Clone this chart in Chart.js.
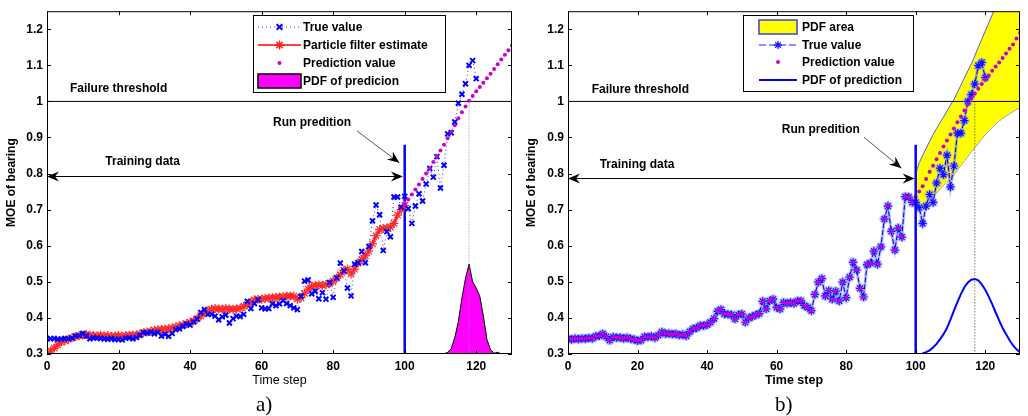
<!DOCTYPE html>
<html>
<head>
<meta charset="utf-8">
<script src="https://cdn.jsdelivr.net/npm/chart.js@4.4.1/dist/chart.umd.min.js"></script>
<style>
  body { margin: 0; background: #fff; }
  #wrap { position: relative; width: 1028px; height: 416px; overflow: hidden; }
  canvas { position: absolute; top: 0; }
  .cap { position: absolute; top: 392px; line-height: 24px; font: 21px "Liberation Serif", "Times New Roman", serif; }
</style>
</head>
<body>
<div id="wrap">
  <canvas id="chartA" width="518" height="416" style="left:0"></canvas>
  <canvas id="chartB" width="508" height="416" style="left:520px"></canvas>
  <div class="cap" style="left:256px">a)</div>
  <div class="cap" style="left:775px">b)</div>
</div>
<script>
const xTicks = [0, 20, 40, 60, 80, 100, 120];
const yTicks = [0.3, 0.4, 0.5, 0.6, 0.7, 0.8, 0.9, 1.0, 1.1, 1.2];
const threshold = 1.0;
const runStep = 100;

// panel a) -- true value, steps 0..120
const trueA = [
  0.343, 0.342, 0.343, 0.341, 0.342, 0.343, 0.342, 0.344, 0.350, 0.351,
  0.357, 0.350, 0.342, 0.345, 0.344, 0.343, 0.342, 0.341, 0.343, 0.340,
  0.341, 0.339, 0.344, 0.345, 0.342, 0.346, 0.352, 0.360, 0.358, 0.361,
  0.356, 0.360, 0.350, 0.355, 0.349, 0.357, 0.368, 0.370, 0.377, 0.383,
  0.380, 0.389, 0.397, 0.415, 0.423, 0.410, 0.410, 0.405, 0.395, 0.403,
  0.408, 0.386, 0.398, 0.405, 0.404, 0.410, 0.446, 0.426, 0.440, 0.450,
  0.428, 0.425, 0.426, 0.439, 0.434, 0.439, 0.448, 0.440, 0.434, 0.428,
  0.423, 0.460, 0.502, 0.505, 0.467, 0.474, 0.453, 0.470, 0.452, 0.498,
  0.457, 0.511, 0.552, 0.530, 0.483, 0.461, 0.549, 0.553, 0.584, 0.553,
  0.598, 0.669, 0.713, 0.686, 0.587, 0.639, 0.625, 0.735, 0.735, 0.707,
  0.737, 0.703, 0.662, 0.710, 0.744, 0.724, 0.771, 0.814, 0.790, 0.847,
  0.760, 0.823, 0.910, 0.913, 0.943, 0.995, 1.020, 1.049, 1.100, 1.113,
  1.063
];
// particle filter estimate, steps 0..100
const pfA = [
  0.300, 0.308, 0.316, 0.325, 0.333, 0.337, 0.341, 0.345, 0.348, 0.351,
  0.352, 0.354, 0.352, 0.351, 0.350, 0.352, 0.350, 0.351, 0.349, 0.350,
  0.351, 0.349, 0.351, 0.352, 0.352, 0.353, 0.356, 0.359, 0.361, 0.363,
  0.366, 0.367, 0.368, 0.369, 0.370, 0.372, 0.375, 0.378, 0.381, 0.384,
  0.388, 0.392, 0.398, 0.406, 0.414, 0.420, 0.424, 0.426, 0.425, 0.424,
  0.426, 0.425, 0.424, 0.425, 0.427, 0.432, 0.437, 0.444, 0.450, 0.452,
  0.452, 0.454, 0.455, 0.456, 0.457, 0.458, 0.459, 0.460, 0.461, 0.460,
  0.452, 0.456, 0.468, 0.480, 0.488, 0.490, 0.491, 0.490, 0.492, 0.495,
  0.502, 0.510, 0.520, 0.532, 0.535, 0.522, 0.535, 0.552, 0.562, 0.572,
  0.585, 0.605, 0.628, 0.645, 0.648, 0.649, 0.652, 0.662, 0.685, 0.700,
  0.712
];
// prediction, steps 100..130
const predA = [
  0.715, 0.728, 0.742, 0.756, 0.770, 0.785, 0.800, 0.815, 0.832, 0.848,
  0.864, 0.880, 0.898, 0.916, 0.934, 0.953, 0.970, 0.986, 1.002, 1.015,
  1.028, 1.040, 1.052, 1.064, 1.077, 1.090, 1.103, 1.116, 1.129, 1.142,
  1.155
];
// PDF of predicion, steps 110..127
const pdfA = [
  0.300, 0.301, 0.304, 0.315, 0.345, 0.390, 0.455, 0.510, 0.549, 0.500,
  0.483, 0.460, 0.405, 0.340, 0.312, 0.302, 0.305, 0.300
];
const eolA = 118;

// panel b) -- true value, steps 0..120
const trueB = [
  0.342, 0.340, 0.343, 0.341, 0.343, 0.342, 0.344, 0.343, 0.349, 0.350,
  0.356, 0.348, 0.338, 0.347, 0.345, 0.346, 0.343, 0.345, 0.342, 0.340,
  0.337, 0.338, 0.348, 0.347, 0.349, 0.345, 0.352, 0.361, 0.356, 0.357,
  0.355, 0.356, 0.352, 0.354, 0.350, 0.362, 0.370, 0.372, 0.379, 0.378,
  0.381, 0.388, 0.398, 0.418, 0.423, 0.411, 0.410, 0.409, 0.397, 0.409,
  0.411, 0.388, 0.400, 0.404, 0.408, 0.412, 0.446, 0.425, 0.447, 0.452,
  0.429, 0.425, 0.443, 0.440, 0.443, 0.440, 0.447, 0.447, 0.434, 0.429,
  0.420, 0.465, 0.499, 0.509, 0.461, 0.476, 0.452, 0.474, 0.447, 0.499,
  0.456, 0.513, 0.554, 0.533, 0.482, 0.458, 0.547, 0.552, 0.585, 0.549,
  0.597, 0.674, 0.710, 0.640, 0.588, 0.649, 0.624, 0.736, 0.735, 0.720,
  0.720, 0.706, 0.662, 0.710, 0.742, 0.720, 0.774, 0.815, 0.797, 0.851,
  0.763, 0.821, 0.912, 0.912, 0.947, 1.000, 1.019, 1.048, 1.099, 1.108,
  1.066
];
// prediction, steps 100..130
const predB = [
  0.735, 0.750, 0.765, 0.785, 0.805, 0.822, 0.840, 0.857, 0.875, 0.892,
  0.908, 0.925, 0.942, 0.958, 0.975, 0.992, 1.008, 1.022, 1.035, 1.048,
  1.060, 1.072, 1.085, 1.097, 1.108, 1.120, 1.133, 1.146, 1.158, 1.174,
  1.190
];
// PDF area bounds, steps 100..130
const bandUpB = [
  0.800, 0.830, 0.850, 0.870, 0.889, 0.908, 0.925, 0.941, 0.957, 0.973,
  0.990, 1.005, 1.025, 1.045, 1.065, 1.085, 1.104, 1.126, 1.150, 1.172,
  1.195, 1.217, 1.240, 1.262, 1.285, 1.307, 1.330, 1.352, 1.375, 1.397,
  1.420
];
const bandLowB = [
  0.700, 0.700, 0.706, 0.716, 0.726, 0.736, 0.746, 0.757, 0.768, 0.778,
  0.787, 0.797, 0.810, 0.822, 0.835, 0.848, 0.860, 0.872, 0.884, 0.897,
  0.908, 0.918, 0.928, 0.938, 0.946, 0.953, 0.960, 0.966, 0.972, 0.978,
  0.983
];
// PDF of prediction, steps 102..130
const pdfB = [
  0.302, 0.305, 0.310, 0.318, 0.328, 0.341, 0.355, 0.372, 0.395, 0.420,
  0.444, 0.466, 0.485, 0.498, 0.506, 0.508, 0.504, 0.493, 0.478, 0.459,
  0.438, 0.415, 0.393, 0.372, 0.355, 0.338, 0.324, 0.313, 0.305
];
const eolB = 117;

const FONT = '"Liberation Sans", Arial, sans-serif';
const pts = (arr, x0) => arr.map((v, i) => ({ x: x0 + i, y: v }));

function marker(ctx, style, x, y, r, color, lw) {
  ctx.save();
  ctx.strokeStyle = color; ctx.fillStyle = color; ctx.lineWidth = lw;
  ctx.beginPath();
  if (style === 'dot') {
    ctx.arc(x, y, r, 0, Math.PI * 2); ctx.fill();
  } else {
    const d = r * 0.707;
    ctx.moveTo(x - d, y - d); ctx.lineTo(x + d, y + d);
    ctx.moveTo(x - d, y + d); ctx.lineTo(x + d, y - d);
    if (style === 'star') {
      ctx.moveTo(x - r, y); ctx.lineTo(x + r, y);
      ctx.moveTo(x, y - r); ctx.lineTo(x, y + r);
    }
    ctx.stroke();
  }
  ctx.restore();
}

function arrowHead(ctx, fx, fy, tx, ty) {
  const a = Math.atan2(ty - fy, tx - fx);
  ctx.save();
  ctx.translate(tx, ty); ctx.rotate(a);
  ctx.beginPath();
  ctx.moveTo(0, 0); ctx.lineTo(-12, -5); ctx.lineTo(-8, 0); ctx.lineTo(-12, 5);
  ctx.closePath();
  ctx.fillStyle = '#000'; ctx.fill();
  ctx.restore();
}

// box, inward ticks, labels, arrows, legend
const decor = {
  id: 'decor',
  afterDatasetsDraw(chart, args, o) {
    const { ctx, chartArea: a, scales: { x, y } } = chart;
    ctx.save();
    ctx.strokeStyle = '#000'; ctx.lineWidth = 1;
    ctx.strokeRect(a.left + 0.5, a.top + 0.5, a.right - a.left - 1, a.bottom - a.top - 1);
    ctx.beginPath();
    xTicks.forEach(v => {
      const px = Math.round(x.getPixelForValue(v)) + 0.5;
      ctx.moveTo(px, a.bottom); ctx.lineTo(px, a.bottom - 4);
      ctx.moveTo(px, a.top); ctx.lineTo(px, a.top + 4);
    });
    yTicks.forEach(v => {
      const py = Math.round(y.getPixelForValue(v)) + 0.5;
      ctx.moveTo(a.left, py); ctx.lineTo(a.left + 4, py);
      ctx.moveTo(a.right, py); ctx.lineTo(a.right - 4, py);
    });
    ctx.stroke();

    ctx.fillStyle = '#000';
    ctx.font = 'bold 12px ' + FONT;
    ctx.textBaseline = 'middle';
    o.texts.forEach(t => ctx.fillText(t.text, x.getPixelForValue(t.x), y.getPixelForValue(t.y)));

    // training data double arrow
    const tr = o.training;
    const ty = Math.round(y.getPixelForValue(tr.y)) + 0.5;
    const x1 = x.getPixelForValue(tr.from), x2 = x.getPixelForValue(tr.to);
    ctx.beginPath(); ctx.moveTo(x1 + 4, ty); ctx.lineTo(x2 - 4, ty); ctx.stroke();
    arrowHead(ctx, x2, ty, x1, ty);
    arrowHead(ctx, x1, ty, x2, ty);

    // run prediction arrow
    const r = o.run;
    const rx1 = x.getPixelForValue(r.from[0]), ry1 = y.getPixelForValue(r.from[1]);
    const rx2 = x.getPixelForValue(r.to[0]), ry2 = y.getPixelForValue(r.to[1]);
    ctx.strokeStyle = '#555';
    ctx.beginPath(); ctx.moveTo(rx1, ry1); ctx.lineTo(rx2, ry2); ctx.stroke();
    arrowHead(ctx, rx1, ry1, rx2, ry2);

    // axis titles
    ctx.fillStyle = '#000';
    ctx.textAlign = 'center';
    ctx.font = 'bold 12px ' + FONT;
    ctx.save();
    ctx.translate(12, (a.top + a.bottom) / 2); ctx.rotate(-Math.PI / 2);
    ctx.fillText('MOE of bearing', 0, 0);
    ctx.restore();
    ctx.font = (o.xTitleBold ? 'bold ' : '') + '12.5px ' + FONT;
    ctx.fillText('Time step', (a.left + a.right) / 2, 381);

    // legend
    const L = o.legend;
    ctx.textAlign = 'left';
    ctx.fillStyle = '#fff';
    ctx.fillRect(L.x, L.y, L.w, L.h);
    ctx.strokeStyle = '#000';
    ctx.strokeRect(L.x + 0.5, L.y + 0.5, L.w, L.h);
    L.items.forEach((it, i) => {
      const cy = L.rows[i], s0 = L.x + L.s0, s1 = L.x + L.s1, cx = (s0 + s1) / 2;
      if (it.rect) {
        ctx.fillStyle = it.rect; ctx.fillRect(s0, cy - 7, s1 - s0, 14);
        ctx.strokeStyle = it.edge; ctx.lineWidth = 1.5;
        ctx.strokeRect(s0, cy - 7, s1 - s0, 14);
      }
      if (it.line) {
        ctx.strokeStyle = it.line; ctx.lineWidth = it.lw || 1.5;
        ctx.setLineDash(it.dash || []);
        ctx.beginPath(); ctx.moveTo(s0, cy); ctx.lineTo(s1, cy); ctx.stroke();
        ctx.setLineDash([]);
      }
      if (it.marker) marker(ctx, it.marker, cx, cy, it.r, it.color, it.mlw);
      ctx.fillStyle = '#000';
      ctx.font = 'bold 12px ' + FONT;
      ctx.fillText(it.text, L.x + L.t, cy + 1);
    });
    ctx.restore();
  }
};

function scales(yWidth) {
  const font = { family: FONT, size: 12, weight: 'bold' };
  return {
    x: {
      type: 'linear', min: 0, max: 130,
      grid: { display: false, drawTicks: false }, border: { display: false },
      ticks: { padding: 5, font, color: '#000', maxRotation: 0 },
      afterBuildTicks: s => { s.ticks = xTicks.map(v => ({ value: v })); },
      afterFit: s => { s.height = 62; }
    },
    y: {
      min: 0.3, max: 1.25,
      grid: { display: false, drawTicks: false }, border: { display: false },
      ticks: { padding: 4, font, color: '#000', callback: v => String(Number(v.toFixed(1))) },
      afterBuildTicks: s => { s.ticks = yTicks.map(v => ({ value: v })); },
      afterFit: s => { s.width = yWidth; }
    }
  };
}

new Chart(document.getElementById('chartA'), {
  type: 'line',
  data: {
    datasets: [
      { data: pts(predA, runStep), showLine: false, pointStyle: 'circle', pointRadius: 2,
        pointBackgroundColor: '#cc00cc', pointBorderWidth: 0 },
      { data: pts(trueA, 0), borderColor: '#3333ff', borderWidth: 1, borderDash: [1, 3],
        pointStyle: 'crossRot', pointRadius: 3.5, pointBorderColor: '#0000ff', pointBorderWidth: 2 },
      { data: pts(pfA, 0), borderColor: '#ff0000', borderWidth: 1.5,
        pointStyle: 'star', pointRadius: 4.5, pointBorderColor: '#ff2a2a', pointBorderWidth: 1.3 },
      { data: pts(pfA, 0), borderColor: 'rgba(255,120,120,0.5)', borderWidth: 3, pointRadius: 0 },
      { data: [{ x: runStep, y: 0.3 }, { x: runStep, y: 0.88 }], borderColor: '#0000ff', borderWidth: 2.5, pointRadius: 0 },
      { data: [{ x: 0, y: threshold }, { x: 130, y: threshold }], borderColor: '#000', borderWidth: 1, pointRadius: 0 },
      { data: [{ x: eolA, y: threshold }, { x: eolA, y: 0.3 }], borderColor: '#888', borderWidth: 1, borderDash: [1, 2], pointRadius: 0 },
      { data: pts(pdfA, 110), fill: 'start', backgroundColor: '#ff00ff', borderColor: '#000', borderWidth: 1, pointRadius: 0 }
    ]
  },
  options: {
    responsive: false, animation: false, events: [],
    layout: { padding: { left: 0, top: 7, right: 6, bottom: 0 } },
    scales: scales(47),
    plugins: {
      legend: { display: false }, tooltip: { enabled: false },
      decor: {
        texts: [
          { text: 'Failure threshold', x: 6.4, y: 1.035 },
          { text: 'Training data', x: 16.3, y: 0.833 },
          { text: 'Run predition', x: 63.2, y: 0.94 }
        ],
        training: { y: 0.792, from: 0, to: 99.5 },
        run: { from: [86.7, 0.918], to: [98.5, 0.83] },
        xTitleBold: false,
        legend: {
          x: 253, y: 15, w: 192, h: 77, rows: [27, 45, 63, 81], s0: 5, s1: 48, t: 50,
          items: [
            { text: 'True value', line: '#3333ff', lw: 1, dash: [1, 3], marker: 'x', r: 4, color: '#0000ff', mlw: 2 },
            { text: 'Particle filter estimate', line: '#ff0000', marker: 'star', r: 4.5, color: '#ff2020', mlw: 1.5 },
            { text: 'Prediction value', marker: 'dot', r: 2, color: '#cc00cc' },
            { text: 'PDF of predicion', rect: '#ff00ff', edge: '#000' }
          ]
        }
      }
    }
  },
  plugins: [decor]
});

new Chart(document.getElementById('chartB'), {
  type: 'line',
  data: {
    datasets: [
      { data: [{ x: runStep, y: 0.3 }, { x: runStep, y: 0.88 }], borderColor: '#0000ff', borderWidth: 2.5, pointRadius: 0 },
      { data: pts(trueB.slice(0, runStep), 0).concat(pts(predB, runStep)), showLine: false,
        pointStyle: 'circle', pointRadius: 2, pointBackgroundColor: '#cc00cc', pointBorderWidth: 0 },
      { data: pts(trueB, 0), borderColor: '#0000dd', borderWidth: 1, borderDash: [5, 2],
        pointStyle: 'star', pointRadius: 4, pointBorderColor: '#1010ff', pointBorderWidth: 1.2 },
      { data: pts(trueB, 0), borderColor: 'rgba(120,120,255,0.55)', borderWidth: 3,
        pointStyle: 'star', pointRadius: 5, pointBorderColor: 'rgba(150,150,255,0.6)', pointBorderWidth: 3 },
      { data: [{ x: 0, y: threshold }, { x: 130, y: threshold }], borderColor: '#000', borderWidth: 1, pointRadius: 0 },
      { data: [{ x: eolB, y: threshold }, { x: eolB, y: 0.3 }], borderColor: '#333', borderWidth: 1, borderDash: [1, 2], pointRadius: 0 },
      { data: pts(pdfB, 102), borderColor: '#0000ff', borderWidth: 2, pointRadius: 0 },
      { data: pts(bandUpB, runStep), fill: '+1', backgroundColor: '#ffff00', borderColor: '#5a5ad8', borderWidth: 1, pointRadius: 0 },
      { data: pts(bandLowB, runStep), borderColor: '#5a5ad8', borderWidth: 1, pointRadius: 0 }
    ]
  },
  options: {
    responsive: false, animation: false, events: [],
    layout: { padding: { left: 0, top: 7, right: 1, bottom: 0 } },
    scales: scales(48),
    plugins: {
      legend: { display: false }, tooltip: { enabled: false },
      decor: {
        texts: [
          { text: 'Failure threshold', x: 6.8, y: 1.033 },
          { text: 'Training data', x: 9.1, y: 0.824 },
          { text: 'Run predition', x: 61.5, y: 0.921 }
        ],
        training: { y: 0.788, from: 0, to: 99.7 },
        run: { from: [85.1, 0.901], to: [95.9, 0.815] },
        xTitleBold: true,
        legend: {
          x: 223, y: 15, w: 170, h: 76, rows: [27, 45, 62, 80], s0: 16, s1: 54, t: 59,
          items: [
            { text: 'PDF area', rect: '#ffff00', edge: '#4040e0' },
            { text: 'True value', line: '#2020ff', lw: 1.2, dash: [7, 3], marker: 'star', r: 4, color: '#2020ff', mlw: 1.3 },
            { text: 'Prediction value', marker: 'dot', r: 2, color: '#cc00cc' },
            { text: 'PDF of prediction', line: '#0000ff', lw: 2 }
          ]
        }
      }
    }
  },
  plugins: [decor]
});
</script>
</body>
</html>
